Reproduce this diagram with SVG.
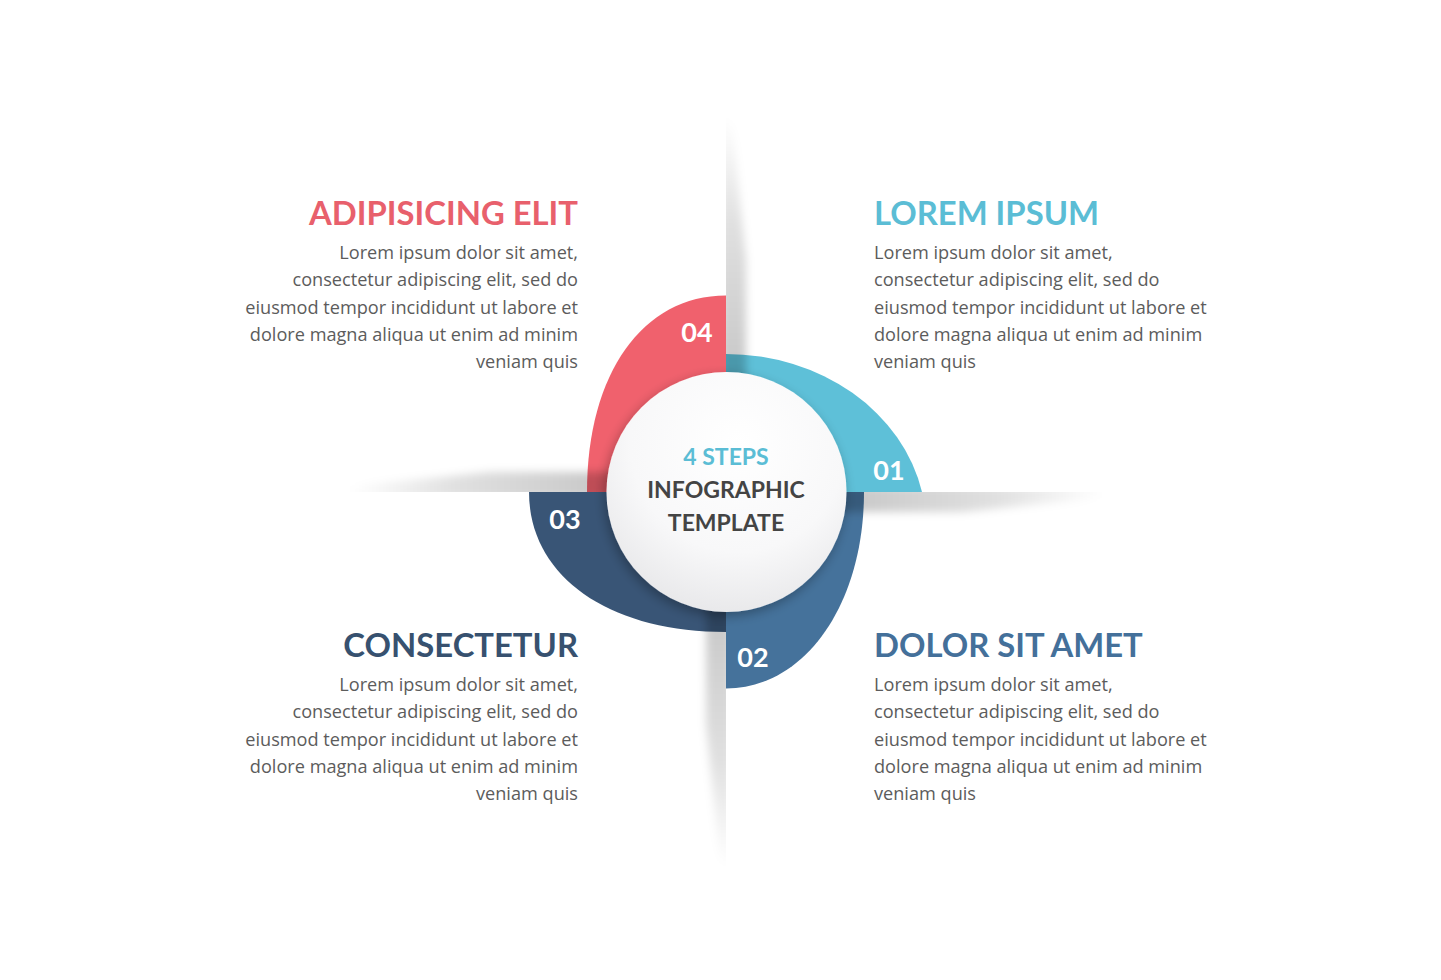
<svg xmlns="http://www.w3.org/2000/svg" width="1441" height="980" viewBox="0 0 1441 980">
<style>
.title{font-family:Lato,"Open Sans","Liberation Sans",sans-serif;font-weight:700;font-size:32.8px}
.body{font-family:"Open Sans","Liberation Sans",sans-serif;font-size:18.15px;fill:#5c5c5c}
.num{font-family:Lato,"Liberation Sans",sans-serif;font-weight:700;font-size:27px;fill:#ffffff;text-anchor:middle}
.ctr{font-family:Lato,"Liberation Sans",sans-serif;font-weight:700;font-size:23px;text-anchor:middle}
.end{text-anchor:end}
</style>
<defs>
<filter id="blur" x="-50%" y="-50%" width="200%" height="200%"><feGaussianBlur stdDeviation="4"/></filter>
<filter id="circShadow" x="-30%" y="-30%" width="160%" height="160%">
<feGaussianBlur in="SourceAlpha" stdDeviation="6"/>
<feOffset dx="-2" dy="4" result="b"/>
<feComponentTransfer><feFuncA type="linear" slope="0.3"/></feComponentTransfer>
<feMerge><feMergeNode/><feMergeNode in="SourceGraphic"/></feMerge>
</filter>
<radialGradient id="circFill" cx="0.55" cy="0.3" r="0.75">
<stop offset="0" stop-color="#ffffff"/>
<stop offset="0.6" stop-color="#f8f8f9"/>
<stop offset="1" stop-color="#e6e6e8"/>
</radialGradient>
<linearGradient id="gTop" x1="0" y1="0" x2="0" y2="1">
<stop offset="0" stop-color="#000" stop-opacity="0"/>
<stop offset="0.4" stop-color="#000" stop-opacity="0.12"/>
<stop offset="1" stop-color="#000" stop-opacity="0.22"/>
</linearGradient>
<linearGradient id="gBottom" x1="0" y1="1" x2="0" y2="0">
<stop offset="0" stop-color="#000" stop-opacity="0"/>
<stop offset="0.4" stop-color="#000" stop-opacity="0.12"/>
<stop offset="1" stop-color="#000" stop-opacity="0.22"/>
</linearGradient>
<linearGradient id="gLeft" x1="0" y1="0" x2="1" y2="0">
<stop offset="0" stop-color="#000" stop-opacity="0"/>
<stop offset="0.4" stop-color="#000" stop-opacity="0.12"/>
<stop offset="1" stop-color="#000" stop-opacity="0.22"/>
</linearGradient>
<linearGradient id="gRight" x1="1" y1="0" x2="0" y2="0">
<stop offset="0" stop-color="#000" stop-opacity="0"/>
<stop offset="0.4" stop-color="#000" stop-opacity="0.12"/>
<stop offset="1" stop-color="#000" stop-opacity="0.22"/>
</linearGradient>
<clipPath id="cTop"><rect x="726" y="100" width="60" height="290"/></clipPath>
<clipPath id="cBottom"><rect x="666" y="595" width="60" height="290"/></clipPath>
<clipPath id="cLeft"><rect x="330" y="432" width="290" height="60"/></clipPath>
<clipPath id="cRight"><rect x="832" y="492" width="290" height="60"/></clipPath>
</defs>
<rect width="1441" height="980" fill="#ffffff"/>

<g id="node-01">
<path d="M726,492 L726,354 A200.1,173 0 0 1 922,492 Z" fill="#5ec0d8"/>
<text class="num" x="889" y="480">01</text>
<text class="title" x="874" y="225" fill="#5bbdd5">LOREM IPSUM</text>
<text class="body" x="874" y="259">Lorem ipsum dolor sit amet,</text>
<text class="body" x="874" y="286.3">consectetur adipiscing elit, sed do</text>
<text class="body" x="874" y="313.6">eiusmod tempor incididunt ut labore et</text>
<text class="body" x="874" y="340.9">dolore magna aliqua ut enim ad minim</text>
<text class="body" x="874" y="368.2">veniam quis</text>
</g>

<g id="node-02">
<path d="M726,492 L864,492 C864,604.3 804.7,688.5 726,688.5 Z" fill="#45729b"/>
<text class="num" x="753" y="667">02</text>
<text class="title" x="874" y="657" fill="#44709a">DOLOR SIT AMET</text>
<text class="body" x="874" y="691">Lorem ipsum dolor sit amet,</text>
<text class="body" x="874" y="718.3">consectetur adipiscing elit, sed do</text>
<text class="body" x="874" y="745.6">eiusmod tempor incididunt ut labore et</text>
<text class="body" x="874" y="772.9">dolore magna aliqua ut enim ad minim</text>
<text class="body" x="874" y="800.2">veniam quis</text>
</g>

<g id="node-03">
<path d="M726,492 L726,632 C607.8,632 529,576 529,492 Z" fill="#395576"/>
<text class="num" x="565" y="529">03</text>
<text class="title end" x="578" y="657" fill="#37516f">CONSECTETUR</text>
<text class="body end" x="578" y="691">Lorem ipsum dolor sit amet,</text>
<text class="body end" x="578" y="718.3">consectetur adipiscing elit, sed do</text>
<text class="body end" x="578" y="745.6">eiusmod tempor incididunt ut labore et</text>
<text class="body end" x="578" y="772.9">dolore magna aliqua ut enim ad minim</text>
<text class="body end" x="578" y="800.2">veniam quis</text>
</g>

<g id="node-04">
<path d="M726,492 L587,492 C587,373.8 642.6,295.5 726,295.5 Z" fill="#f0616d"/>
<text class="num" x="697" y="342">04</text>
<text class="title end" x="578" y="225" fill="#e8606c">ADIPISICING ELIT</text>
<text class="body end" x="578" y="259">Lorem ipsum dolor sit amet,</text>
<text class="body end" x="578" y="286.3">consectetur adipiscing elit, sed do</text>
<text class="body end" x="578" y="313.6">eiusmod tempor incididunt ut labore et</text>
<text class="body end" x="578" y="340.9">dolore magna aliqua ut enim ad minim</text>
<text class="body end" x="578" y="368.2">veniam quis</text>
</g>

<g id="folds">
<g clip-path="url(#cTop)"><polygon points="720,118 732,118 746,260 746,380 720,380" fill="url(#gTop)" filter="url(#blur)"/></g>
<g clip-path="url(#cBottom)"><polygon points="732,866 720,866 706,724 706,604 732,604" fill="url(#gBottom)" filter="url(#blur)"/></g>
<g clip-path="url(#cLeft)"><polygon points="350,498 350,486 490,472 612,472 612,498" fill="url(#gLeft)" filter="url(#blur)"/></g>
<g clip-path="url(#cRight)"><polygon points="1102,486 1102,498 962,512 840,512 840,486" fill="url(#gRight)" filter="url(#blur)"/></g>
</g>

<g id="center">
<circle cx="726.5" cy="492" r="120" fill="url(#circFill)" filter="url(#circShadow)"/>
<text class="ctr" x="726" y="465" fill="#5bbdd5">4 STEPS</text>
<text class="ctr" x="726" y="498" fill="#444444">INFOGRAPHIC</text>
<text class="ctr" x="726" y="531" fill="#444444">TEMPLATE</text>
</g>
</svg>
